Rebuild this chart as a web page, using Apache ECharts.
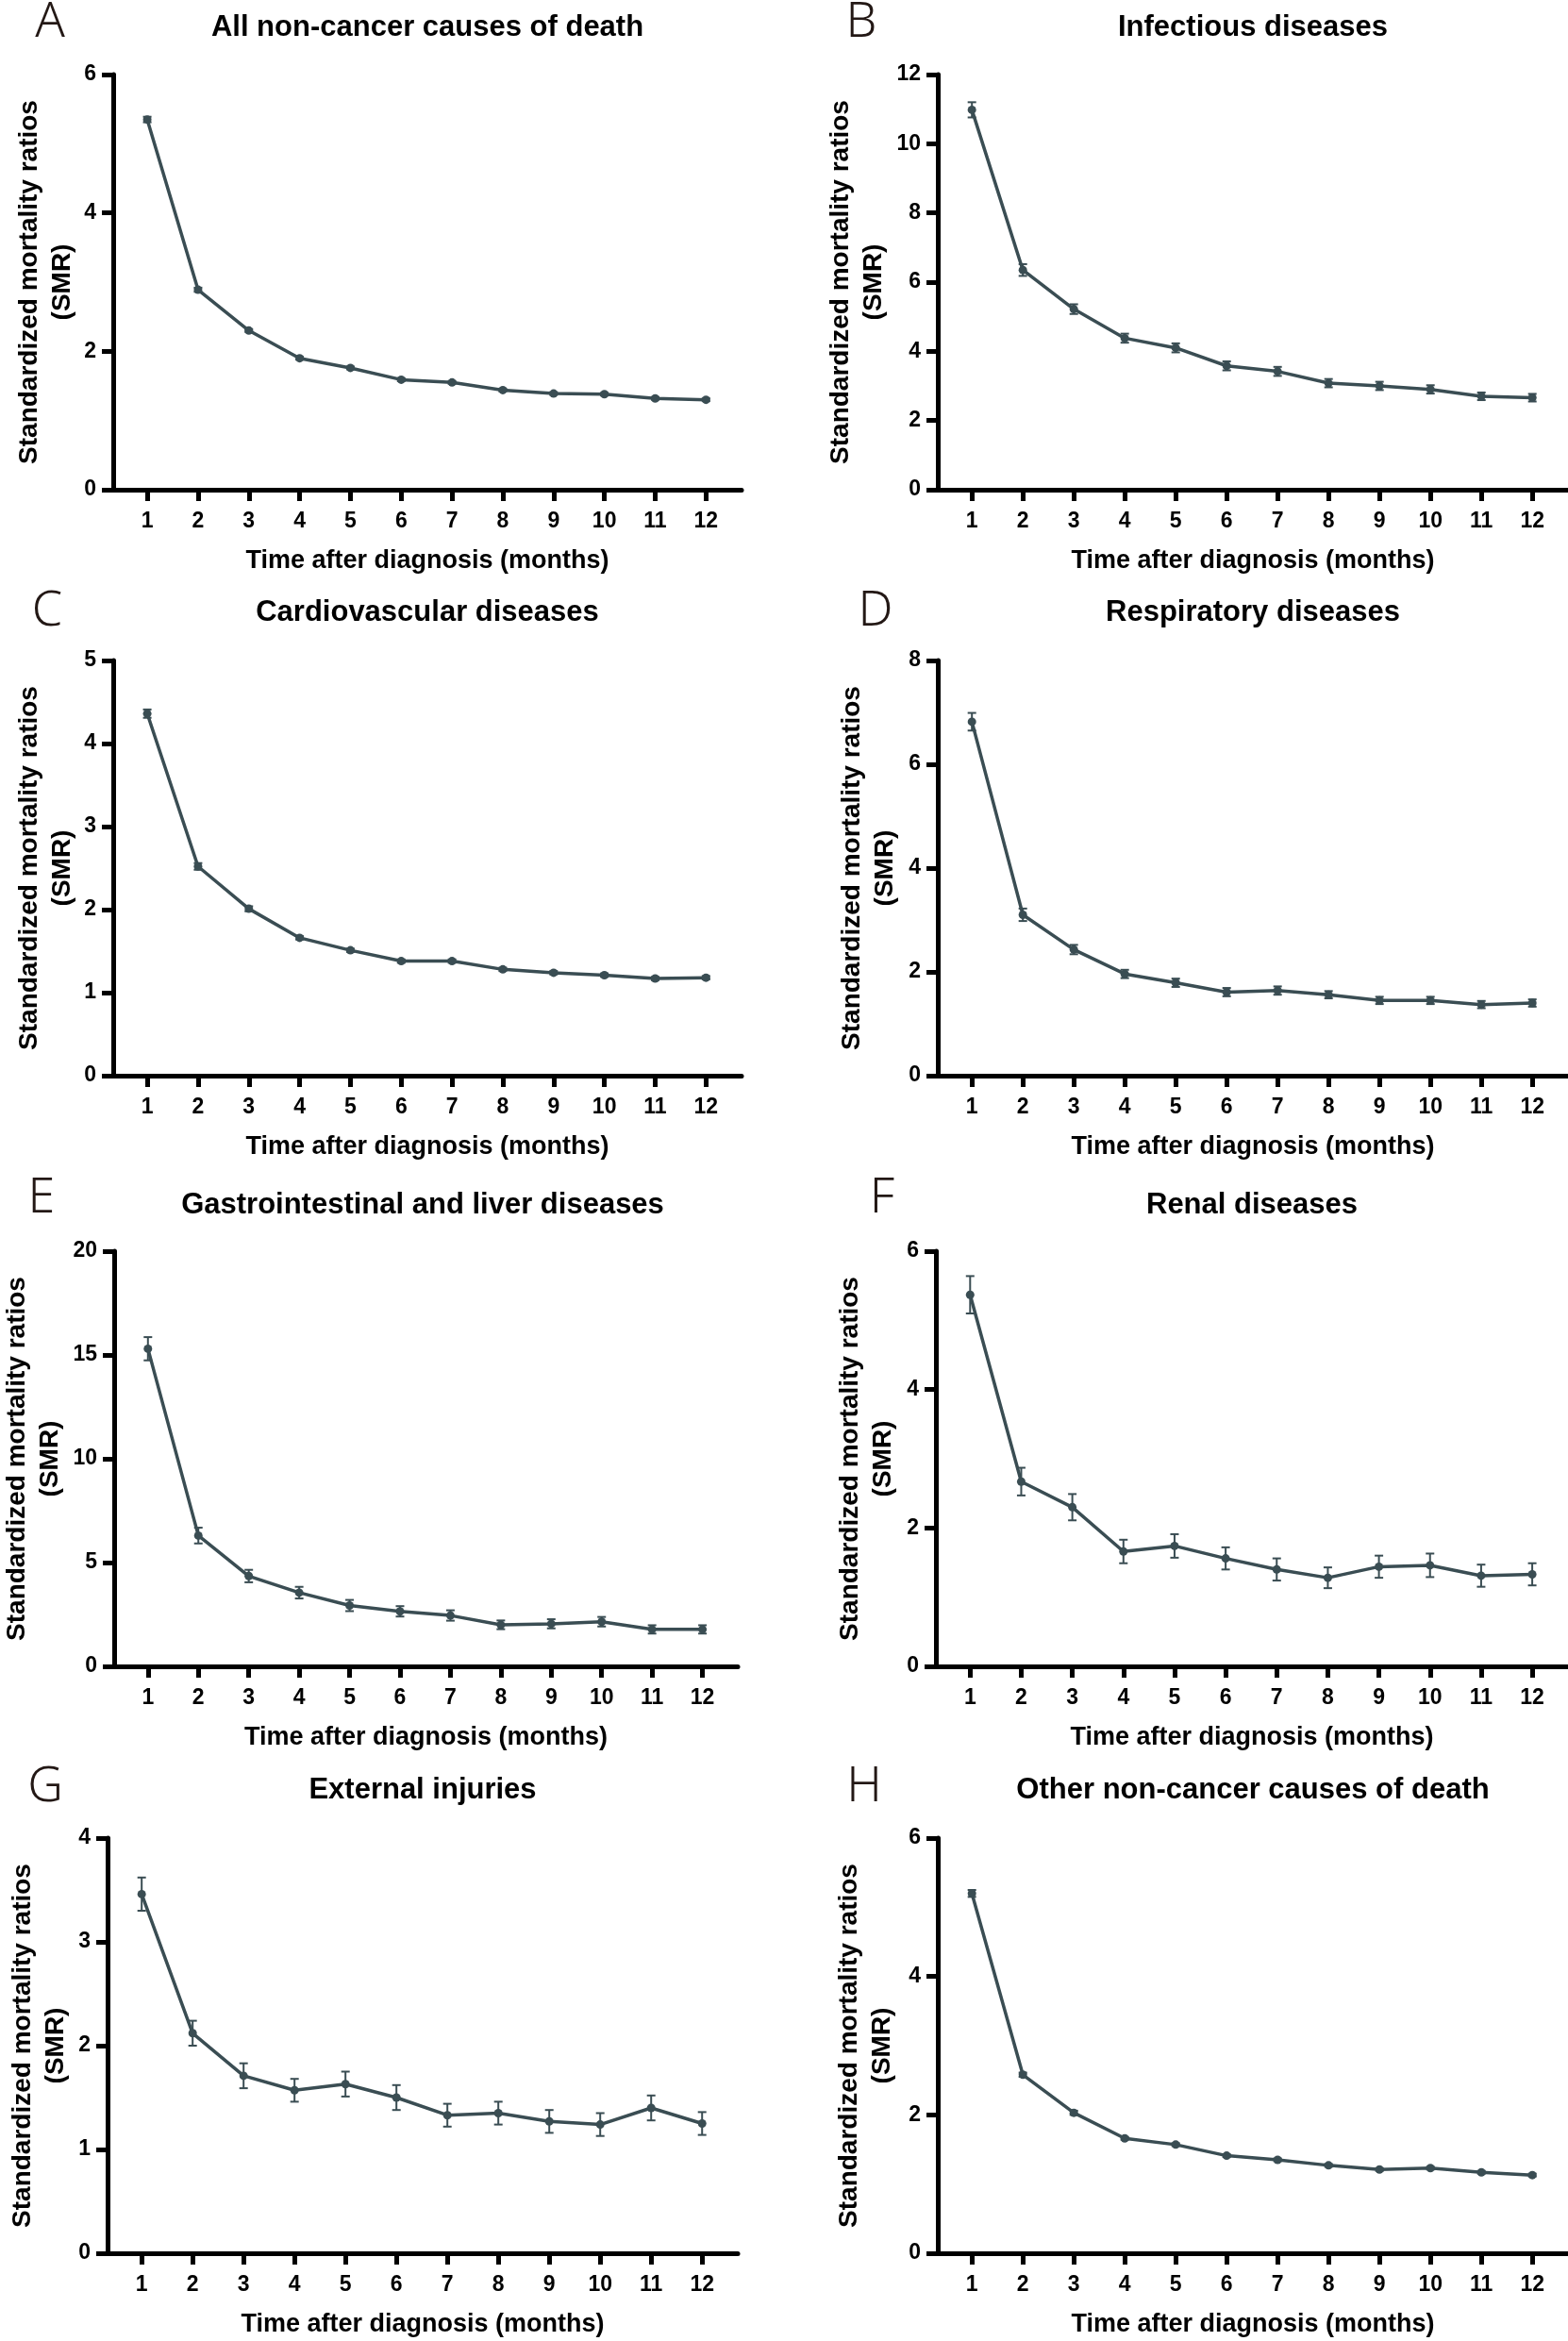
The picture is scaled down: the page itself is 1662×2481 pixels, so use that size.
<!DOCTYPE html>
<html>
<head>
<meta charset="utf-8">
<script src="https://cdn.jsdelivr.net/npm/echarts@6/dist/echarts.min.js"></script>
<style>
  body { margin: 0; background: #fff; }
  #chart { width: 1662px; height: 2481px; }
</style>
</head>
<body>
<div id="chart"></div>
<script>
  // months after diagnosis
  const months = [1, 2, 3, 4, 5, 6, 7, 8, 9, 10, 11, 12];

  // SMR values and half-widths of the error bars
  const allCauses = [5.35, 2.89, 2.30, 1.90, 1.76, 1.59, 1.55, 1.44, 1.39, 1.38, 1.32, 1.30];
  const allCausesErr = [0.04, 0.03, 0.02, 0.02, 0.02, 0.02, 0.02, 0.02, 0.02, 0.02, 0.02, 0.02];
  const infectious = [10.98, 6.35, 5.22, 4.38, 4.10, 3.58, 3.42, 3.08, 3.00, 2.90, 2.70, 2.66];
  const infectiousErr = [0.22, 0.17, 0.14, 0.13, 0.13, 0.13, 0.13, 0.12, 0.12, 0.12, 0.11, 0.11];
  const cardio = [4.36, 2.52, 2.01, 1.66, 1.51, 1.38, 1.38, 1.28, 1.24, 1.21, 1.17, 1.18];
  const cardioErr = [0.05, 0.04, 0.03, 0.02, 0.02, 0.02, 0.02, 0.02, 0.02, 0.02, 0.02, 0.02];
  const respiratory = [6.82, 3.10, 2.43, 1.96, 1.79, 1.61, 1.64, 1.56, 1.45, 1.45, 1.37, 1.40];
  const respiratoryErr = [0.17, 0.12, 0.09, 0.08, 0.08, 0.08, 0.08, 0.07, 0.07, 0.07, 0.07, 0.07];
  const gastro = [15.3, 6.3, 4.35, 3.55, 2.93, 2.65, 2.45, 2.0, 2.05, 2.15, 1.78, 1.78];
  const gastroErr = [0.56, 0.38, 0.30, 0.28, 0.27, 0.25, 0.25, 0.21, 0.22, 0.23, 0.20, 0.20];
  const renal = [5.37, 2.67, 2.30, 1.66, 1.74, 1.56, 1.40, 1.28, 1.44, 1.46, 1.31, 1.33];
  const renalErr = [0.27, 0.20, 0.19, 0.17, 0.17, 0.16, 0.16, 0.15, 0.16, 0.17, 0.16, 0.16];
  const injuries = [3.46, 2.12, 1.71, 1.57, 1.63, 1.50, 1.33, 1.35, 1.27, 1.24, 1.40, 1.25];
  const injuriesErr = [0.16, 0.12, 0.12, 0.11, 0.12, 0.12, 0.11, 0.11, 0.11, 0.11, 0.12, 0.11];
  const other = [5.20, 2.58, 2.03, 1.66, 1.57, 1.41, 1.35, 1.27, 1.21, 1.23, 1.17, 1.13];
  const otherErr = [0.05, 0.03, 0.03, 0.02, 0.02, 0.02, 0.02, 0.02, 0.02, 0.02, 0.02, 0.02];

  const panelLetters = ["A", "B", "C", "D", "E", "F", "G", "H"];
  const panelTitles = [
    "All non-cancer causes of death",
    "Infectious diseases",
    "Cardiovascular diseases",
    "Respiratory diseases",
    "Gastrointestinal and liver diseases",
    "Renal diseases",
    "External injuries",
    "Other non-cancer causes of death",
  ];
  const yMax = [6, 12, 5, 8, 20, 6, 4, 6];
  const yStep = [2, 2, 1, 2, 5, 2, 1, 2];
  const values = [allCauses, infectious, cardio, respiratory, gastro, renal, injuries, other];
  const errors = [allCausesErr, infectiousErr, cardioErr, respiratoryErr, gastroErr, renalErr, injuriesErr, otherErr];

  // layout
  const gridLeft = [120, 994, 120, 994, 114, 992, 114, 994];
  const gridRight = [876, 0, 876, 0, 880, 0, 880, 0];
  const rowTop = [79, 700, 1326, 1948];
  const plotH = 440;
  const yNameGap = [36, 50, 36, 38, 50, 38, 37, 41];
  const titleY = [29, 649, 1277, 1897];
  const letterX = [53, 913, 50, 928, 44, 935, 48, 916];
  const letterY = [24, 648, 1270, 1894];

  const ink = "#3a4d53";
  const font = "'Liberation Sans', Arial, sans-serif";

  const chart = echarts.init(document.getElementById("chart"));

  const grids = [], xAxes = [], yAxes = [], series = [], texts = [];

  panelTitles.forEach((t, i) => {
    const row = Math.floor(i / 2);
    const left = gridLeft[i], right = gridRight[i];
    grids.push({ left: left, right: right, top: rowTop[row], height: plotH });

    xAxes.push({
      gridIndex: i,
      type: "value",
      min: 0.33,
      max: 12.7,
      name: "Time after diagnosis (months)",
      nameLocation: "middle",
      nameGap: 62,
      nameTextStyle: { fontFamily: font, fontSize: 27, fontWeight: "bold", color: "#000" },
      axisLine: { onZero: false, lineStyle: { color: "#000", width: 5 } },
      axisTick: { customValues: months, length: 12, lineStyle: { color: "#000", width: 5 } },
      axisLabel: {
        customValues: months,
        margin: 22,
        fontFamily: font,
        fontSize: 23,
        fontWeight: "bold",
        color: "#000",
      },
      splitLine: { show: false },
    });

    yAxes.push({
      gridIndex: i,
      type: "value",
      min: 0,
      max: yMax[i],
      interval: yStep[i],
      name: "Standardized mortality ratios\n(SMR)",
      nameLocation: "middle",
      nameRotate: 90,
      nameGap: yNameGap[i],
      nameTextStyle: {
        fontFamily: font,
        fontSize: 28,
        fontWeight: "bold",
        lineHeight: 35,
        color: "#000",
      },
      axisLine: { show: true, onZero: false, lineStyle: { color: "#000", width: 5 } },
      axisTick: { show: true, length: 12, lineStyle: { color: "#000", width: 5 } },
      axisLabel: { margin: 18, fontFamily: font, fontSize: 23, fontWeight: "bold", color: "#000" },
      splitLine: { show: false },
    });

    const v = values[i], e = errors[i];

    series.push({
      type: "custom",
      xAxisIndex: i,
      yAxisIndex: i,
      encode: { x: 0, y: [1, 2] },
      data: months.map((m, k) => [m, v[k] - e[k], v[k] + e[k]]),
      renderItem: (params, api) => {
        const x = api.value(0);
        const lo = api.coord([x, api.value(1)]);
        const hi = api.coord([x, api.value(2)]);
        const cap = 4.5;
        const st = { stroke: ink, lineWidth: 2 };
        return {
          type: "group",
          children: [
            { type: "line", shape: { x1: lo[0], y1: lo[1], x2: hi[0], y2: hi[1] }, style: st },
            { type: "line", shape: { x1: hi[0] - cap, y1: hi[1], x2: hi[0] + cap, y2: hi[1] }, style: st },
            { type: "line", shape: { x1: lo[0] - cap, y1: lo[1], x2: lo[0] + cap, y2: lo[1] }, style: st },
          ],
        };
      },
      z: 3,
    });

    series.push({
      type: "line",
      xAxisIndex: i,
      yAxisIndex: i,
      data: months.map((m, k) => [m, v[k]]),
      symbol: "circle",
      symbolSize: 9,
      itemStyle: { color: ink },
      lineStyle: { color: ink, width: 3.5 },
      z: 4,
    });

    // panel title, centred over the plot
    const plotRight = 1662 - right;
    texts.push({
      type: "text",
      x: (left + plotRight) / 2,
      y: titleY[row],
      style: {
        text: t,
        align: "center",
        verticalAlign: "middle",
        font: "bold 31px " + font,
        fill: "#000",
      },
    });
    // panel letter
    texts.push({
      type: "text",
      x: letterX[i],
      y: letterY[row],
      style: {
        text: panelLetters[i],
        align: "center",
        verticalAlign: "middle",
        font: "300 52px 'Noto Sans', 'DejaVu Sans', sans-serif",
        fill: "#231815",
      },
    });
  });

  chart.setOption({
    animation: false,
    backgroundColor: "#fff",
    grid: grids,
    xAxis: xAxes,
    yAxis: yAxes,
    series: series,
    graphic: texts,
  });
</script>
</body>
</html>
